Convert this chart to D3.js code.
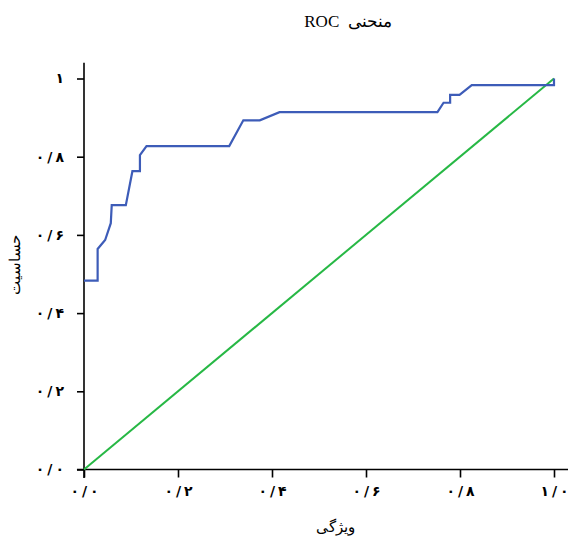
<!DOCTYPE html>
<html>
<head>
<meta charset="utf-8">
<script src="https://cdn.jsdelivr.net/npm/d3@7"></script>
<style>
    body { margin: 0; background: #fff; }
    svg { display: block; }
    .tickLabel text { font-family: "DejaVu Sans", sans-serif; font-weight: bold; font-size: 14px; }
    .axisLabel { font-family: "Liberation Serif", "DejaVu Serif", serif; font-size: 15px; fill: #000; }
    .title { font-family: "Liberation Serif", "DejaVu Serif", serif; font-size: 17px; fill: #000; white-space: pre; }
</style>
</head>
<body>
<svg></svg>
<script>
// ROC curve
var fpr = [0, 0.029, 0.029, 0.045, 0.057, 0.059, 0.089, 0.103, 0.119, 0.119, 0.133, 0.309, 0.339, 0.374, 0.416,
    0.752, 0.765, 0.779, 0.779, 0.799, 0.825, 1.0, 1.0];
var tpr = [0.483, 0.483, 0.564, 0.587, 0.630, 0.676, 0.676, 0.763, 0.763, 0.804, 0.827, 0.827, 0.893, 0.893, 0.914,
    0.914, 0.938, 0.938, 0.958, 0.958, 0.983, 0.983, 1.0];
var chance = [0, 1];

var xTicks = [0, 0.2, 0.4, 0.6, 0.8, 1.0];
var xTickLabels = ["۰/۰", "۰/۲", "۰/۴", "۰/۶", "۰/۸", "۱/۰"];
var yTicks = [0, 0.2, 0.4, 0.6, 0.8, 1.0];
var yTickLabels = ["۰/۰", "۰/۲", "۰/۴", "۰/۶", "۰/۸", "۱"];

var titleText = "ROC  منحنی";
var xLabelText = "ویژگی";
var yLabelText = "حساسیت";

///////////////////////////////////////////////////////
// canvas
var svgWidth = 568, svgHeight = 538;
var svg = d3.select("svg")
    .attr("width", svgWidth)
    .attr("height", svgHeight);

var x = d3.scaleLinear().domain([0, 1]).range([84, 554]);
var y = d3.scaleLinear().domain([0, 1]).range([469.5, 78.5]);

// spread the characters of a tick label apart (letter-spacing is ignored for this script)
function spreadLabel(sel, gap) {
    sel.each(function () {
        var t = d3.select(this);
        var chars = Array.from(t.text());
        t.text(null);
        chars.forEach((c, i) => {
            t.append("tspan").attr("dx", i ? gap : 0).text(c);
        });
    });
}

// axis spines cross at zero and run past the data
svg.append("line")
    .attr("x1", x(-0.015)).attr("x2", x(1.03))
    .attr("y1", y(0)).attr("y2", y(0))
    .attr("stroke", "#000").attr("stroke-width", 1.6);
svg.append("line")
    .attr("x1", x(0)).attr("x2", x(0))
    .attr("y1", y(-0.022)).attr("y2", y(1.04))
    .attr("stroke", "#000").attr("stroke-width", 1.6);

var gx = svg.append("g")
    .attr("class", "tickLabel")
    .attr("transform", "translate(0," + y(0) + ")")
    .call(d3.axisBottom(x)
        .tickValues(xTicks)
        .tickSize(8)
        .tickPadding(9)
        .tickFormat((d, i) => xTickLabels[i]));
gx.select(".domain").remove();
gx.selectAll(".tick line").attr("stroke-width", 1.6);
spreadLabel(gx.selectAll(".tick text"), 3);

var gy = svg.append("g")
    .attr("class", "tickLabel")
    .attr("transform", "translate(" + x(0) + ",0)")
    .call(d3.axisLeft(y)
        .tickValues(yTicks)
        .tickSize(7)
        .tickPadding(13)
        .tickFormat((d, i) => yTickLabels[i]));
gy.select(".domain").remove();
gy.selectAll(".tick line").attr("stroke-width", 1.6);
spreadLabel(gy.selectAll(".tick text"), 3);

// lines
var line = d3.line()
    .x(d => x(d[0]))
    .y(d => y(d[1]));

svg.append("path")
    .datum(chance.map((d, i) => [chance[i], chance[i]]))
    .attr("fill", "none")
    .attr("stroke", "#27b845")
    .attr("stroke-width", 2)
    .attr("d", line);

svg.append("path")
    .datum(fpr.map((d, i) => [fpr[i], tpr[i]]))
    .attr("fill", "none")
    .attr("stroke", "#3d5cb8")
    .attr("stroke-width", 2.2)
    .attr("d", line);

// labels
svg.append("text")
    .attr("class", "title")
    .attr("x", 348).attr("y", 27)
    .attr("text-anchor", "middle")
    .text(titleText);

svg.append("text")
    .attr("class", "axisLabel")
    .attr("x", 335).attr("y", 532)
    .attr("text-anchor", "middle")
    .text(xLabelText);

svg.append("text")
    .attr("class", "axisLabel")
    .attr("transform", "translate(20,265) rotate(-90)")
    .attr("text-anchor", "middle")
    .text(yLabelText);
</script>
</body>
</html>
